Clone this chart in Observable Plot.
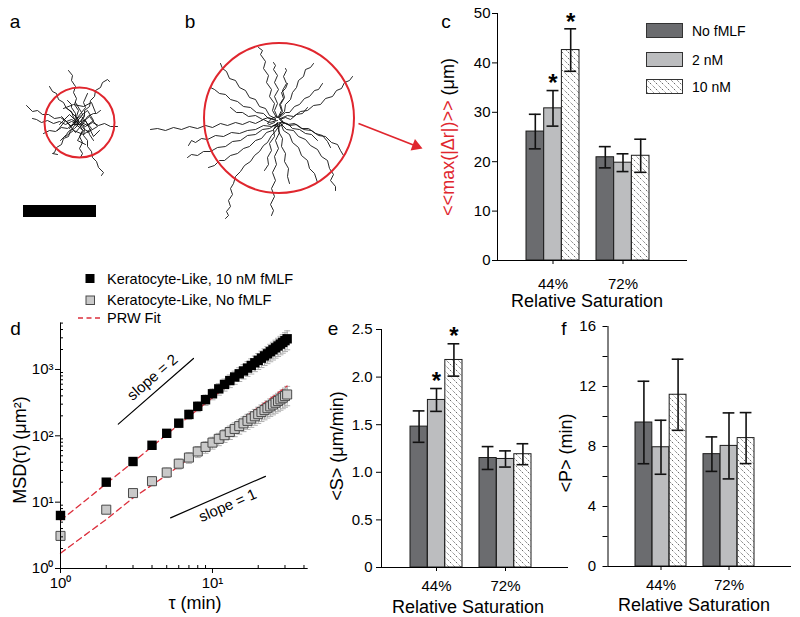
<!DOCTYPE html>
<html>
<head>
<meta charset="utf-8">
<script src="https://cdn.jsdelivr.net/npm/d3@7"></script>
<script src="https://cdn.jsdelivr.net/npm/@observablehq/plot@0.6"></script>
<style>
  html, body { margin: 0; padding: 0; background: #fff; }
  body { font-family: "Liberation Sans", Arial, Helvetica, sans-serif; color: #000; }
  #fig { position: relative; width: 800px; height: 617px; overflow: hidden; background: #fff; }
  .t { position: absolute; white-space: nowrap; line-height: 1; transform: translate(-50%, -50%); }
  .t.rot { transform: translate(-50%, -50%) rotate(-90deg); }
  .t.lft { transform: translate(0, -50%); }
</style>
</head>
<body>
<svg width="0" height="0" style="position:absolute">
  <defs>
    <pattern id="hatch" patternUnits="userSpaceOnUse" width="6" height="6">
      <rect width="6" height="6" fill="#fff"/>
      <path d="M-1,-1L7,7M-7,-1L1,7M5,-1L13,7" stroke="#222" stroke-width="0.8" stroke-dasharray="1.2,1.2"/>
    </pattern>
  </defs>
</svg>
<div id="fig"></div>
<script>
// ---------------- data ----------------
const groups = ["44%", "72%"];
const series = ["No fMLF", "2 nM", "10 nM"];
const barFills = ["#6b6c6f", "#bcbdbf", "url(#hatch)"];

// (c) <<max(|Δr|)>> (µm) : rows = series, columns = groups
const maxDrMean = [[26.1, 20.9], [30.8, 19.8], [42.6, 21.2]];
const maxDrErr  = [[3.5, 2.15], [3.6, 1.8], [4.3, 3.35]];
const maxDrStar = [[false, false], [true, false], [true, false]];
const maxDrTicks = [0, 10, 20, 30, 40, 50];

// (e) <S> (µm/min)
const speedMean = [[1.48, 1.15], [1.76, 1.14], [2.18, 1.19]];
const speedErr  = [[0.165, 0.12], [0.12, 0.085], [0.17, 0.11]];
const speedStar = [[false, false], [true, false], [true, false]];
const speedTicks = [0, 0.5, 1.0, 1.5, 2.0, 2.5];

// (f) <P> (min)
const persMean = [[9.6, 7.49], [7.95, 8.04], [11.45, 8.56]];
const persErr  = [[2.75, 1.15], [1.8, 2.2], [2.37, 1.7]];
const persTicks = [0, 4, 8, 12, 16];
const persMinorTicks = [2, 6, 10, 14];

// (d) MSD(τ)
const tau = [1,2,3,4,5,6,7,8,9,10,11,12,13,14,15,16,17,18,19,20,21,22,23,24,25,26,27,28,29,30,31];
const msd10nM = [6.3,20,41,72,109,155,210,278,350,430,510,595,680,770,860,950,1050,1150,1260,1370,1480,1600,1720,1850,1980,2120,2260,2410,2560,2720,2900];
const msd10nMErr = [0.5,1.6,3.8,8,14,22,33,47,63,81,101,123,147,173,201,231,263,297,333,371,411,453,497,543,591,641,693,747,803,861,921];
const msdNo = [3.1,7.7,13.7,20.7,28,38,47,58,68,79,90,102,114,127,140,154,168,182,197,212,228,244,261,278,296,315,334,354,375,397,420];
const msdNoErr = [0.3,0.9,1.8,3,4.5,6.5,8.5,11,13.5,16,19,22.5,26,30,34,38.5,43,48,53,58.5,64,70,76,82,89,96,103,111,119,127,136];
const fitTau = [1, 2, 3, 5, 10, 20, 31];
const fit10nM = [5.3, 19, 40, 105, 375, 1350, 3000];
const fitNo = [1.7, 5.5, 11.6, 25.6, 83, 267, 562];
const slope2Line = [[2.4, 150], [7.5, 1465]];
const slope1Line = [[5.3, 5.8], [22.3, 24.5]];
const msdMajorY = [1, 10, 100, 1000];
const msdMinorY = [2,3,4,5,6,7,8,9,20,30,40,50,60,70,80,90,200,300,400,500,600,700,800,900,2000,3000,4000,5000];
const tauMajor = [1, 10];
const tauMinor = [2,3,4,5,6,7,8,9,20,30,40];

// (a), (b) cell tracks (offsets from the common origin, picture units, y downward)
const tracksA = [
  [[0,0],[-3,-6],[-1,-12],[-5,-18],[-3,-24],[-6,-30],[-4,-36],[-8,-42],[-7,-47],[-11,-52]],
  [[1,-1],[5,-6],[5,-12],[10,-16],[11,-22],[15,-26],[16,-32],[21,-35],[23,-40],[28,-43],[30,-41]],
  [[-1,-1],[-6,-5],[-8,-11],[-13,-14],[-16,-20],[-21,-23],[-23,-29],[-27,-31],[-30,-36]],
  [[-2,0],[-8,-3],[-13,-1],[-19,-5],[-25,-4],[-31,-8],[-37,-8],[-42,-12],[-47,-11],[-53,-17]],
  [[-2,1],[-8,-1],[-14,2],[-20,-1],[-26,1],[-32,-2],[-38,0],[-43,-3],[-47,-4]],
  [[-1,2],[-7,2],[-12,6],[-18,5],[-24,9],[-30,8],[-36,11]],
  [[-1,2],[-5,6],[-9,8],[-11,14],[-16,16],[-18,22],[-23,25],[-25,30],[-27,31],[-22,32]],
  [[0,2],[3,8],[0,14],[3,20],[0,26],[3,31],[1,35]],
  [[1,2],[5,7],[4,13],[8,18],[8,24],[12,29],[13,35],[17,39],[19,45],[24,50],[22,53]],
  [[2,0],[8,3],[13,0],[19,3],[25,1],[31,4],[38,4]],
  [[2,-1],[6,-3],[8,-6],[14,-9],[17,-9],[21,-12]],
  [[-1,-1],[-4,-5],[-4,-9],[-8,-15],[-8,-18],[-12,-22]],
  [[1,-1],[4,-6],[2,-10],[6,-15],[4,-20],[8,-29]],
  [[-1,1],[-5,3],[-7,6],[-11,9],[-13,12],[-19,18]],
  [[1,1],[4,3],[5,7],[9,9],[10,12],[14,18]],
  [[-18,-6],[-8,4],[2,-6],[12,6],[4,12],[-6,8],[-14,14]],
  [[-12,-14],[-2,-4],[8,-12],[14,-2],[6,4],[-4,-2],[-10,6]],
  [[-20,2],[-10,-8],[0,2],[10,-6],[18,4],[8,10]],
  [[-4,-20],[2,-10],[-6,0],[4,8],[-2,18],[6,22]],
  [[-16,-14],[-6,-18],[4,-16],[12,-20],[16,-10]],
  [[-22,8],[-14,-2],[-4,10],[6,-2],[14,14],[20,8]]
];
const tracksB = [
  [[0,0],[-8,2],[-14,-1],[-22,3],[-28,1],[-35,4],[-42,2],[-50,5],[-57,3],[-65,7],[-72,5],[-80,8],[-88,6],[-96,9],[-104,7],[-112,10],[-120,8],[-127,9]],
  [[2,2],[-6,6],[-14,5],[-22,9],[-30,10],[-38,13],[-46,12],[-54,16],[-62,15],[-70,19],[-76,18],[-82,22],[-86,20],[-89,25]],
  [[0,3],[-8,8],[-15,9],[-22,14],[-30,15],[-37,20],[-45,21],[-52,26],[-60,27],[-67,31],[-74,31],[-80,35],[-86,34],[-90,37]],
  [[1,4],[-5,10],[-11,12],[-16,18],[-22,20],[-28,26],[-34,28],[-40,33],[-47,35],[-53,40],[-58,40],[-63,45],[-69,47]],
  [[2,5],[-3,12],[-6,15],[-10,22],[-14,25],[-18,31],[-23,35],[-27,41],[-33,45],[-37,51],[-42,56],[-44,63],[-47,68],[-45,74],[-49,80],[-47,86],[-51,91],[-49,95],[-52,98]],
  [[0,4],[2,12],[-2,20],[1,28],[-3,36],[-1,44],[-5,52],[-2,60],[-6,68],[-3,76],[-7,84],[-4,90],[-6,95]],
  [[0,2],[-4,9],[-3,16],[-8,23],[-6,30],[-10,37],[-9,44],[-13,50]],
  [[2,3],[1,11],[5,18],[4,26],[8,33],[7,41],[11,48],[10,56],[12,63]],
  [[3,2],[6,10],[12,14],[15,22],[21,27],[24,35],[30,40],[32,48],[37,53],[40,62]],
  [[4,1],[12,5],[19,4],[26,9],[34,10],[41,15],[48,16],[54,22],[60,24],[63,30],[66,35]],
  [[3,0],[10,4],[17,3],[24,8],[31,8],[38,13],[45,15],[50,21],[53,27]],
  [[3,-2],[10,-5],[16,-4],[23,-9],[30,-10],[36,-15],[43,-16],[48,-22],[55,-24],[59,-30],[64,-32],[67,-38],[72,-40],[75,-44]],
  [[2,-3],[8,-8],[12,-8],[17,-14],[22,-16],[27,-22],[32,-24],[37,-30],[41,-31],[45,-37]],
  [[2,-4],[7,-9],[8,-16],[13,-21],[15,-28],[19,-33],[21,-40],[26,-44],[28,-51],[33,-53],[36,-57]],
  [[1,-4],[4,-10],[2,-16],[6,-22],[4,-28],[8,-32],[10,-37]],
  [[0,-3],[-3,-10],[0,-17],[-3,-24],[1,-31],[-3,-38],[0,-45],[-4,-51],[-2,-55],[-4,-58]],
  [[-1,-3],[-5,-10],[-3,-17],[-8,-24],[-6,-31],[-11,-38],[-9,-45],[-14,-52],[-12,-59],[-17,-66],[-15,-70],[-19,-73]],
  [[-2,-2],[-8,-5],[-12,-12],[-18,-14],[-22,-21],[-28,-23],[-32,-30],[-38,-33],[-42,-40],[-48,-42],[-51,-49],[-55,-52],[-57,-57]],
  [[-2,-1],[-9,-2],[-14,-7],[-21,-8],[-27,-13],[-34,-14],[-40,-19],[-47,-21],[-52,-26],[-58,-27],[-63,-31],[-67,-33]],
  [[-2,0],[-9,-3],[-15,-1],[-22,-5],[-29,-4],[-35,-8],[-41,-8],[-47,-13]],
  [[2,-1],[8,-3],[13,-1],[19,-6],[25,-7],[30,-13]],
  [[3,2],[10,3],[15,8],[22,9],[28,13],[34,14],[40,20]],
  [[1,-3],[5,-9],[3,-16],[7,-23],[5,-30],[9,-37],[6,-44],[9,-50],[8,-52]],
  [[3,3],[9,9],[16,10],[21,16],[28,19],[33,25],[40,29],[44,36],[50,40],[52,48],[56,54],[53,60],[58,66],[58,70]],
  [[-3,2],[-8,4],[-10,3],[-6,-2],[-1,-4],[4,-1],[6,3],[2,6],[-4,5]]
];
const circleA = {x: 0, y: 0};
const circleB = {x: 1.5, y: -2.5};
const scaleBarA = [{x1: -56, x2: 17, y1: 83, y2: 95}];
const arrowB = {x1: 81, y1: 3, x2: 138.5, y2: 25.5};

// ---------------- helpers ----------------
const fig = document.getElementById("fig");
const FONT = '"Liberation Sans", Arial, sans-serif';
const baseStyle = {background: "transparent", overflow: "visible", fontFamily: FONT, color: "#000"};
function place(el, left, top) {
  el.style.position = "absolute";
  el.style.left = left + "px";
  el.style.top = top + "px";
  fig.appendChild(el);
}
function label(html, x, y, size, cls = "") {
  const d = document.createElement("div");
  d.className = "t " + cls;
  d.style.left = x + "px";
  d.style.top = y + "px";
  d.style.fontSize = size + "px";
  d.innerHTML = html;
  fig.appendChild(d);
}
const sup = {"0": "⁰", "1": "¹", "2": "²", "3": "³", "4": "⁴"};
const powFmt = d => "10" + String(Math.round(Math.log10(d))).split("").map(c => sup[c]).join("");

// ---------------- bar panels ----------------
function barPanel(o) {
  const rows = [];
  series.forEach((s, si) => groups.forEach((g, gi) => rows.push({
    group: g, si, v: o.mean[si][gi], e: o.err[si][gi], star: o.star ? o.star[si][gi] : false
  })));
  const pI = 0.25, pO = 0.46;
  const step = (o.width - o.mL - o.mR) / (groups.length - pI + 2 * pO);
  const w3 = step * (1 - pI) / 3;
  const cap = 6;
  const marks = [];
  series.forEach((s, si) => {
    const d = rows.filter(r => r.si === si);
    marks.push(Plot.barY(d, {x: "group", y: "v", fill: barFills[si], stroke: "#1b1b1b", strokeWidth: 1,
      insetLeft: si * w3, insetRight: (2 - si) * w3}));
  });
  series.forEach((s, si) => {
    const d = rows.filter(r => r.si === si);
    const off = (si - 1) * w3;
    const iL = si * w3 + w3 / 2 - cap, iR = (2 - si) * w3 + w3 / 2 - cap;
    marks.push(
      Plot.ruleX(d, {x: "group", y1: r => r.v - r.e, y2: r => r.v + r.e, dx: off, stroke: "#111", strokeWidth: 1.6}),
      Plot.tickY(d, {x: "group", y: r => r.v + r.e, insetLeft: iL, insetRight: iR, stroke: "#111", strokeWidth: 1.6}),
      Plot.tickY(d, {x: "group", y: r => r.v - r.e, insetLeft: iL, insetRight: iR, stroke: "#111", strokeWidth: 1.6}),
      Plot.text(d.filter(r => r.star), {x: "group", y: r => r.v + r.e, dx: off, dy: -7, text: () => "*",
        fontSize: 24, fontWeight: "bold"})
    );
  });
  marks.push(
    Plot.axisY({ticks: o.yTicks, tickFormat: o.fmt, tickSize: 5, tickPadding: o.yPad, fontSize: 15, label: null}),
    Plot.axisX({tickSize: 4, tickPadding: o.xPad, fontSize: 15, label: null}),
    Plot.frame({anchor: "left"}),
    Plot.frame({anchor: "bottom"})
  );
  if (o.yMinor) marks.push(Plot.axisY({ticks: o.yMinor, tickFormat: () => "", tickSize: 5, label: null}));
  const svg = Plot.plot({
    width: o.width, height: o.height,
    marginLeft: o.mL, marginRight: o.mR, marginTop: o.mT, marginBottom: o.mB,
    style: baseStyle,
    x: {domain: groups, paddingInner: pI, paddingOuter: pO, align: 0.44},
    y: {domain: o.yDomain},
    marks
  });
  place(svg, o.left, o.top);
}

// (c)
barPanel({mean: maxDrMean, err: maxDrErr, star: maxDrStar, yDomain: [0, 50], yTicks: maxDrTicks,
  fmt: d => String(d), left: 420, top: 0, width: 380, height: 310, mL: 77, mR: 114, mT: 13, mB: 50, xPad: 14, yPad: 2});
// (e)
barPanel({mean: speedMean, err: speedErr, star: speedStar, yDomain: [0, 2.5], yTicks: speedTicks,
  fmt: d => d === 0 ? "0" : d.toFixed(1), left: 320, top: 300, width: 260, height: 310, mL: 61, mR: 13, mT: 29, mB: 43, xPad: 9, yPad: 4});
// (f)
barPanel({mean: persMean, err: persErr, star: null, yDomain: [0, 16], yTicks: persTicks, yMinor: persMinorTicks,
  fmt: d => String(d), left: 560, top: 300, width: 240, height: 310, mL: 47.5, mR: 10, mT: 26, mB: 44, xPad: 9, yPad: 7});

// ---------------- (d) MSD ----------------
{
  const black = tau.map((t, i) => ({t, m: msd10nM[i], e: msd10nMErr[i]}));
  const gray = tau.map((t, i) => ({t, m: msdNo[i], e: msdNoErr[i]}));
  const fitB = fitTau.map((t, i) => ({t, m: fit10nM[i]}));
  const fitG = fitTau.map((t, i) => ({t, m: fitNo[i]}));
  const capSymbol = {draw(ctx, size) { const w = Math.sqrt(size) / 2; ctx.moveTo(-w, 0); ctx.lineTo(w, 0); }};
  const errMarks = data => [
    Plot.ruleX(data, {x: "t", y1: d => d.m - d.e, y2: d => d.m + d.e, stroke: "#9a9a9a", strokeWidth: 0.8}),
    Plot.dot(data, {x: "t", y: d => d.m + d.e, symbol: capSymbol, r: 3.4, stroke: "#9a9a9a", strokeWidth: 0.8, fill: "none"}),
    Plot.dot(data, {x: "t", y: d => d.m - d.e, symbol: capSymbol, r: 3.4, stroke: "#9a9a9a", strokeWidth: 0.8, fill: "none"})
  ];
  const svg = Plot.plot({
    width: 320, height: 340, marginLeft: 60, marginRight: 13.3, marginTop: 52.6, marginBottom: 42,
    style: baseStyle,
    x: {type: "log", domain: [1, 42]},
    y: {type: "log", domain: [1, 5000]},
    marks: [
      ...errMarks(gray),
      ...errMarks(black),
      Plot.line(fitG, {x: "t", y: "m", stroke: "#dc2f3c", strokeWidth: 1.3, strokeDasharray: "6,4"}),
      Plot.line(fitB, {x: "t", y: "m", stroke: "#dc2f3c", strokeWidth: 1.3, strokeDasharray: "6,4"}),
      Plot.dot(gray, {x: "t", y: "m", symbol: "square", r: 5.1, fill: "#c9c9c9", stroke: "#4a4a4a", strokeWidth: 1}),
      Plot.dot(black, {x: "t", y: "m", symbol: "square", r: 5.3, fill: "#000"}),
      Plot.line(slope2Line, {x: d => d[0], y: d => d[1], stroke: "#000", strokeWidth: 1.2}),
      Plot.line(slope1Line, {x: d => d[0], y: d => d[1], stroke: "#000", strokeWidth: 1.2}),
      Plot.text([{t: 4.03, m: 758}], {x: "t", y: "m", text: () => "slope = 2", rotate: -41, fontSize: 15}),
      Plot.text([{t: 12.6, m: 8.9}], {x: "t", y: "m", text: () => "slope = 1", rotate: -23.6, fontSize: 15}),
      Plot.axisY({ticks: msdMajorY, tickFormat: powFmt, tickSize: 5, tickPadding: 2, fontSize: 15, label: null}),
      Plot.axisY({ticks: msdMinorY, tickFormat: () => "", tickSize: -3, label: null}),
      Plot.axisX({ticks: tauMajor, tickFormat: powFmt, tickSize: 5, tickPadding: 4, fontSize: 15, label: null}),
      Plot.axisX({ticks: tauMinor, tickFormat: () => "", tickSize: -3, label: null}),
      Plot.frame({anchor: "left"}),
      Plot.frame({anchor: "bottom"})
    ]
  });
  place(svg, 0, 270);
}

// ---------------- (a) and (b) tracks ----------------
function trackPanel(tracks, circle, radius, xDomain, yDomain, w, h, left, top, extra) {
  const pts = tracks.flatMap((tr, id) => tr.map(([x, y]) => ({x, y, id})));
  const svg = Plot.plot({
    width: w, height: h, margin: 0, marginLeft: 0, marginRight: 0, marginTop: 0, marginBottom: 0,
    style: baseStyle,
    x: {domain: xDomain, axis: null},
    y: {domain: yDomain, axis: null},
    marks: [
      Plot.line(pts, {x: "x", y: "y", z: "id", stroke: "#111", strokeWidth: 0.9, strokeLinejoin: "round"}),
      Plot.dot([circle], {x: "x", y: "y", r: radius, stroke: "#e0262e", strokeWidth: 2, fill: "none"}),
      ...extra
    ]
  });
  place(svg, left, top);
}
trackPanel(tracksA, circleA, 35, [-79, 61], [108, -82], 140, 190, 0, 40, [
  Plot.rect(scaleBarA, {x1: "x1", x2: "x2", y1: "y1", y2: "y2", fill: "#000"})
]);
trackPanel(tracksB, circleB, 75, [-147, 153], [120, -120], 300, 240, 130, 0, [
  Plot.link([arrowB], {x1: "x1", y1: "y1", x2: "x2", y2: "y2", stroke: "#e0262e", strokeWidth: 1.8}),
  Plot.dot([arrowB], {x: "x2", y: "y2", symbol: "triangle", r: 4.5, fill: "#e0262e", rotate: 111.3})
]);

// ---------------- text: panel letters, axis titles, legends ----------------
label("a", 15, 20.5, 19);
label("b", 190, 21.4, 19);
label("c", 446, 21.4, 19);
label("d", 15.5, 328.4, 19);
label("e", 333, 328.4, 19);
label("f", 564, 328.4, 19);

label('<span style="color:#e0262e">&lt;&lt;max(|Δr|)&gt;&gt;</span> (μm)', 448, 137, 18, "rot");
label("&lt;S&gt; (μm/min)", 337, 446, 18, "rot");
label("&lt;P&gt; (min)", 566, 453, 18, "rot");
label("MSD(τ) (μm²)", 20, 450, 18, "rot");

label("Relative Saturation", 587, 301, 18);
label("Relative Saturation", 468, 606.5, 18);
label("Relative Saturation", 694, 604.5, 18);
label("τ (min)", 195, 603, 18);

// legend (c)
const swatch = (fill, x, y) => {
  const s = document.createElementNS("http://www.w3.org/2000/svg", "svg");
  s.setAttribute("width", 37); s.setAttribute("height", 15);
  s.innerHTML = `<rect x="0.5" y="0.5" width="36" height="14" fill="${fill}" stroke="#333" stroke-width="1"/>`;
  place(s, x, y);
};
series.forEach((s, i) => {
  swatch(barFills[i], 646, [23, 52, 79][i]);
  label(s, 692, [30.5, 59.5, 86.5][i], 14, "lft");
});

// legend (d)
{
  const s = document.createElementNS("http://www.w3.org/2000/svg", "svg");
  s.setAttribute("width", 30); s.setAttribute("height", 60);
  s.innerHTML = `<rect x="85.5" y="274" width="9" height="9" fill="#000" transform="translate(-78,-270)"/>
    <rect x="86" y="296" width="8.5" height="8.5" fill="#c9c9c9" stroke="#4a4a4a" stroke-width="1" transform="translate(-78,-270)"/>
    <line x1="78" y1="318" x2="101" y2="318" stroke="#dc2f3c" stroke-width="1.3" stroke-dasharray="5,3.5" transform="translate(-78,-270)"/>`;
  place(s, 78, 270);
  label("Keratocyte-Like, 10 nM fMLF", 107, 278.5, 14.5, "lft");
  label("Keratocyte-Like, No fMLF", 107, 300, 14.5, "lft");
  label("PRW Fit", 107, 318, 14.5, "lft");
}
</script>
</body>
</html>
